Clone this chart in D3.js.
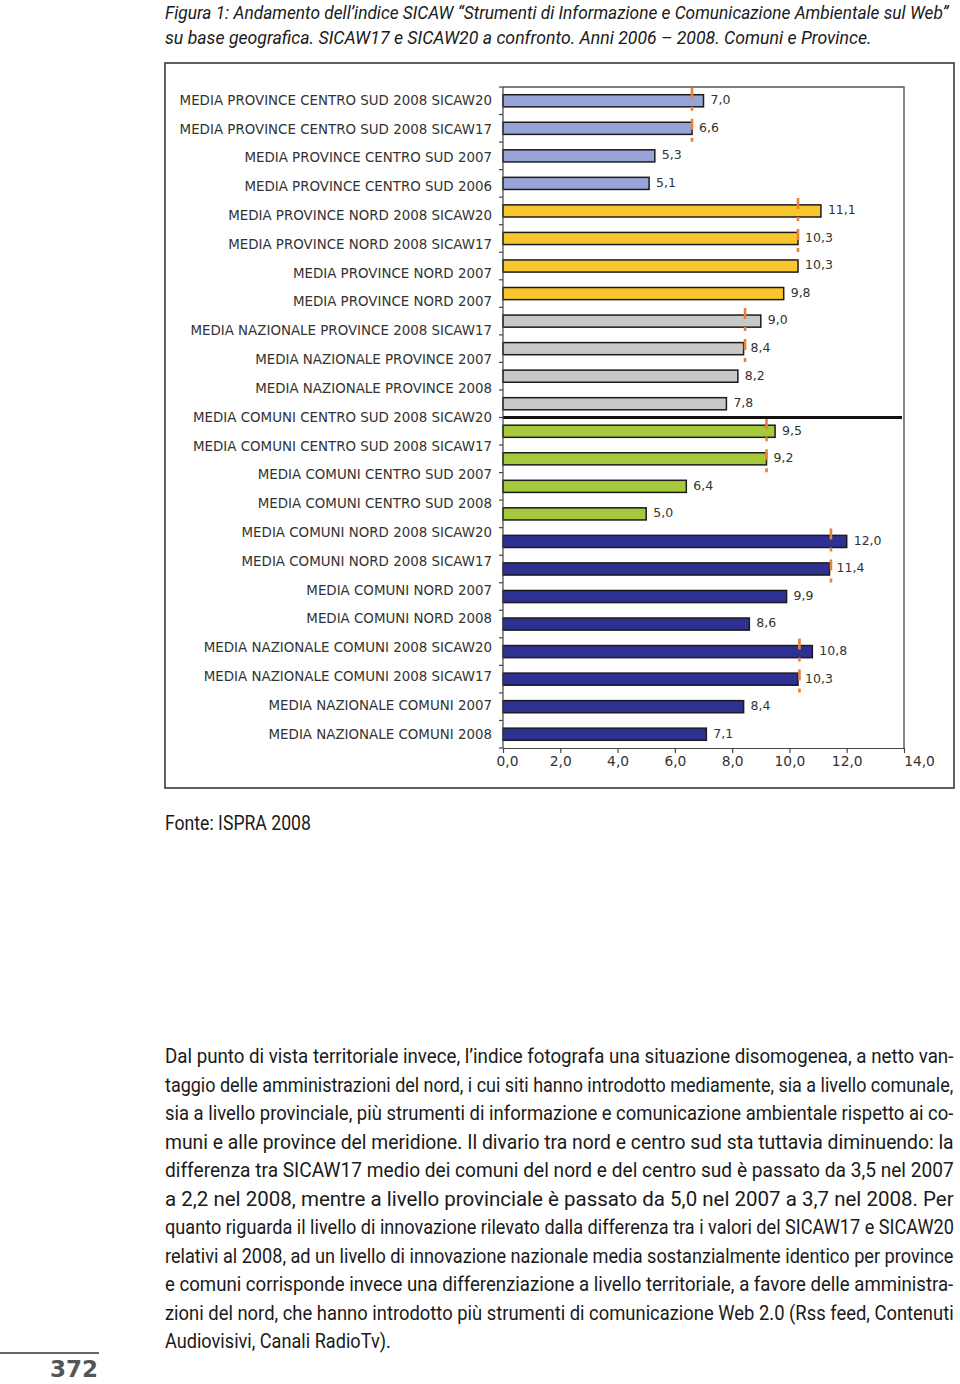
<!DOCTYPE html>
<html>
<head>
<meta charset="utf-8">
<script src="https://cdn.jsdelivr.net/npm/d3@7/dist/d3.min.js"></script>
<style>
  html, body { margin: 0; padding: 0; background: #fff; }
  svg { display: block; }
</style>
</head>
<body>
<svg id="chart" width="960" height="1384"></svg>
<script>
// ---------------- DATA ----------------
const categories = [
  "PROV CS 2008 SICAW20", "PROV CS 2008 SICAW17", "PROV CS 2007", "PROV CS 2006",
  "PROV NORD 2008 SICAW20", "PROV NORD 2008 SICAW17", "PROV NORD 2007", "PROV NORD 2006",
  "NAZ PROV 2008 SICAW20", "NAZ PROV 2008 SICAW17", "NAZ PROV 2007", "NAZ PROV 2006",
  "COM CS 2008 SICAW20", "COM CS 2008 SICAW17", "COM CS 2007", "COM CS 2006",
  "COM NORD 2008 SICAW20", "COM NORD 2008 SICAW17", "COM NORD 2007", "COM NORD 2006",
  "NAZ COM 2008 SICAW20", "NAZ COM 2008 SICAW17", "NAZ COM 2007", "NAZ COM 2006"
];
const values = [
  7.0, 6.6, 5.3, 5.1,
  11.1, 10.3, 10.3, 9.8,
  9.0, 8.4, 8.2, 7.8,
  9.5, 9.2, 6.4, 5.0,
  12.0, 11.4, 9.9, 8.6,
  10.8, 10.3, 8.4, 7.1
];
const groupOf = [
  0,0,0,0, 1,1,1,1, 2,2,2,2, 3,3,3,3, 4,4,4,4, 5,5,5,5
];
const groupColors = ["#98A3D7", "#F8C72D", "#C8C8C8", "#A6C83B", "#2E3192", "#2E3192"];
// SICAW17 reference markers (group start index, value)
const markerStarts = [0, 4, 8, 12, 16, 20];
const markerValues = [6.6, 10.3, 8.45, 9.2, 11.45, 10.35];

// labels as printed on the chart (23 lines)
const axisLabels = [
  "MEDIA PROVINCE CENTRO SUD 2008 SICAW20",
  "MEDIA PROVINCE CENTRO SUD 2008 SICAW17",
  "MEDIA PROVINCE CENTRO SUD 2007",
  "MEDIA PROVINCE CENTRO SUD 2006",
  "MEDIA PROVINCE NORD 2008 SICAW20",
  "MEDIA PROVINCE NORD 2008 SICAW17",
  "MEDIA PROVINCE NORD 2007",
  "MEDIA PROVINCE NORD 2007",
  "MEDIA NAZIONALE PROVINCE 2008 SICAW17",
  "MEDIA NAZIONALE PROVINCE 2007",
  "MEDIA NAZIONALE PROVINCE 2008",
  "MEDIA COMUNI CENTRO SUD 2008 SICAW20",
  "MEDIA COMUNI CENTRO SUD 2008 SICAW17",
  "MEDIA COMUNI CENTRO SUD 2007",
  "MEDIA COMUNI CENTRO SUD 2008",
  "MEDIA COMUNI NORD 2008 SICAW20",
  "MEDIA COMUNI NORD 2008 SICAW17",
  "MEDIA COMUNI NORD 2007",
  "MEDIA COMUNI NORD 2008",
  "MEDIA NAZIONALE COMUNI 2008 SICAW20",
  "MEDIA NAZIONALE COMUNI 2008 SICAW17",
  "MEDIA NAZIONALE COMUNI 2007",
  "MEDIA NAZIONALE COMUNI 2008"
];
const xTicks = [0, 2, 4, 6, 8, 10, 12, 14];

const titleLines = [
  "Figura 1: Andamento dell’indice SICAW “Strumenti di Informazione e Comunicazione Ambientale sul Web”",
  "su base geografica. SICAW17 e SICAW20 a confronto. Anni 2006 – 2008. Comuni e Province."
];
const sourceText = "Fonte: ISPRA 2008";
const paragraphLines = [
  "Dal punto di vista territoriale invece, l’indice fotografa una situazione disomogenea, a netto van-",
  "taggio delle amministrazioni del nord, i cui siti hanno introdotto mediamente, sia a livello comunale,",
  "sia a livello provinciale, più strumenti di informazione e comunicazione ambientale rispetto ai co-",
  "muni e alle province del meridione. Il divario tra nord e centro sud sta tuttavia diminuendo: la",
  "differenza tra SICAW17 medio dei comuni del nord e del centro sud è passato da 3,5 nel 2007",
  "a 2,2 nel 2008, mentre a livello provinciale è passato da 5,0 nel 2007 a 3,7 nel 2008. Per",
  "quanto riguarda il livello di innovazione rilevato dalla differenza tra i valori del SICAW17 e SICAW20",
  "relativi al 2008, ad un livello di innovazione nazionale media sostanzialmente identico per province",
  "e comuni corrisponde invece una differenziazione a livello territoriale, a favore delle amministra-",
  "zioni del nord, che hanno introdotto più strumenti di comunicazione Web 2.0 (Rss feed, Contenuti",
  "Audiovisivi, Canali RadioTv)."
];
const pageNumber = "372";

// ---------------- DRAW ----------------
const svg = d3.select("#chart");
const condensed = "'Roboto', 'Liberation Sans', sans-serif";
const chartFont = "'DejaVu Sans', 'Liberation Sans', sans-serif";
const fmt = v => d3.format(".1f")(v).replace(".", ",");

// horizontally squeeze a text (condensed look) to a target width
function fitLine(sel, x0, y0, target) {
  sel.each(function(d, i) {
    const el = d3.select(this);
    const w = this.getComputedTextLength();
    const t = typeof target === "function" ? target(d, i) : target;
    const yy = typeof y0 === "function" ? y0(d, i) : y0;
    const s = w > 0 ? t / w : 1;
    el.attr("x", 0).attr("y", 0)
      .attr("transform", `translate(${x0},${yy}) scale(${s},1)`);
  });
}

svg.append("rect").attr("width", 960).attr("height", 1384).attr("fill", "#fff");

// title
svg.append("g").selectAll("text").data(titleLines).join("text")
  .attr("font-family", condensed)
  .attr("font-style", "italic")
  .attr("font-size", 19)
  .attr("fill", "#1a1a1a")
  .text(d => d)
  .call(fitLine, 165, (d, i) => 19 + i * 25, (d, i) => i === 0 ? 784 : 707);

// outer frame
svg.append("rect")
  .attr("x", 165).attr("y", 63).attr("width", 789).attr("height", 725)
  .attr("fill", "none").attr("stroke", "#3a3a3a").attr("stroke-width", 1.6);

// plot geometry
const plot = { left: 503, right: 904, top: 87, bottom: 748 };
const x = d3.scaleLinear().domain([0, 14]).range([plot.left, plot.right]);
const y = d3.scaleBand().domain(categories).range([plot.top, plot.bottom]).paddingInner(0.56).paddingOuter(0.28);
const labelY = d3.scalePoint().domain(d3.range(axisLabels.length)).range([100, 734]);

// plot border (top & right)
svg.append("path")
  .attr("d", `M${plot.left},${plot.top}H${plot.right}V${plot.bottom}`)
  .attr("fill", "none").attr("stroke", "#555").attr("stroke-width", 1.4);

// bars
svg.append("g").selectAll("rect").data(values).join("rect")
  .attr("x", x(0))
  .attr("y", (d, i) => y(categories[i]))
  .attr("width", d => x(d) - x(0))
  .attr("height", y.bandwidth())
  .attr("fill", (d, i) => groupColors[groupOf[i]])
  .attr("stroke", "#1b1b1b")
  .attr("stroke-width", 1.5);

// SICAW17 markers (dashed orange)
svg.append("g").selectAll("line").data(markerStarts).join("line")
  .attr("x1", (d, i) => x(markerValues[i]))
  .attr("x2", (d, i) => x(markerValues[i]))
  .attr("y1", d => y(categories[d]) - 7)
  .attr("y2", d => y(categories[d + 1]) + y.bandwidth() + 8)
  .attr("stroke", "#E8823A")
  .attr("stroke-width", 2.6)
  .attr("stroke-dasharray", "11,8,4,8");

// value labels
svg.append("g").selectAll("text").data(values).join("text")
  .attr("x", d => x(d) + 7)
  .attr("y", (d, i) => y(categories[i]) + y.bandwidth() / 2 - 1)
  .attr("dy", "0.35em")
  .attr("font-family", chartFont)
  .attr("font-size", 12.5)
  .attr("fill", "#333")
  .text(d => fmt(d));

// separator line between province and comuni
const sepY = (y(categories[11]) + y.bandwidth() + y(categories[12])) / 2;
svg.append("line")
  .attr("x1", x(0)).attr("x2", 902)
  .attr("y1", sepY).attr("y2", sepY)
  .attr("stroke", "#111").attr("stroke-width", 3);

// left axis
const boundaries = d3.range(categories.length + 1).map(i => plot.top + i * y.step());
const yAxisG = svg.append("g");
yAxisG.append("line")
  .attr("x1", plot.left).attr("x2", plot.left)
  .attr("y1", plot.top).attr("y2", plot.bottom)
  .attr("stroke", "#444").attr("stroke-width", 1.2);
yAxisG.selectAll("line.tick").data(boundaries).join("line")
  .attr("class", "tick")
  .attr("x1", plot.left - 4).attr("x2", plot.left)
  .attr("y1", d => d).attr("y2", d => d)
  .attr("stroke", "#444").attr("stroke-width", 1.2);

// category labels
svg.append("g").selectAll("text").data(axisLabels).join("text")
  .attr("x", 492)
  .attr("y", (d, i) => labelY(i))
  .attr("dy", "0.35em")
  .attr("text-anchor", "end")
  .attr("font-family", chartFont)
  .attr("font-size", 13.4)
  .attr("fill", "#333")
  .text(d => d);

// bottom axis
const xAxis = d3.axisBottom(x).tickValues(xTicks).tickSize(5).tickSizeOuter(0).tickFormat(d => fmt(d));
const xg = svg.append("g").attr("transform", `translate(0,${plot.bottom})`).call(xAxis);
xg.select(".domain").attr("stroke", "#444").attr("stroke-width", 1.2);
xg.selectAll(".tick line").attr("stroke", "#444").attr("stroke-width", 1.2);
xg.selectAll(".tick text")
  .attr("font-family", chartFont).attr("font-size", 13.8).attr("fill", "#333")
  .attr("dy", "0.85em").attr("y", 6)
  .attr("dx", d => d === 0 ? 4 : (d === 14 ? 15 : 0));

// source
svg.append("text")
  .attr("font-family", condensed)
  .attr("font-size", 20)
  .attr("fill", "#1a1a1a")
  .text(sourceText)
  .call(fitLine, 165, 830, 146);

// paragraph
svg.append("g").selectAll("text").data(paragraphLines).join("text")
  .attr("font-family", condensed)
  .attr("font-size", 21)
  .attr("fill", "#1a1a1a")
  .text(d => d)
  .call(fitLine, 165, (d, i) => 1063 + i * 28.5, (d, i) => i === paragraphLines.length - 1 ? 226 : 789);

// page number
svg.append("line")
  .attr("x1", 0).attr("x2", 99).attr("y1", 1353).attr("y2", 1353)
  .attr("stroke", "#333").attr("stroke-width", 1.5);
svg.append("text")
  .attr("x", 98).attr("y", 1377)
  .attr("text-anchor", "end")
  .attr("font-family", "'DejaVu Sans', 'Liberation Sans', sans-serif")
  .attr("font-weight", "bold")
  .attr("font-size", 23)
  .attr("fill", "#555")
  .text(pageNumber);
</script>
</body>
</html>
